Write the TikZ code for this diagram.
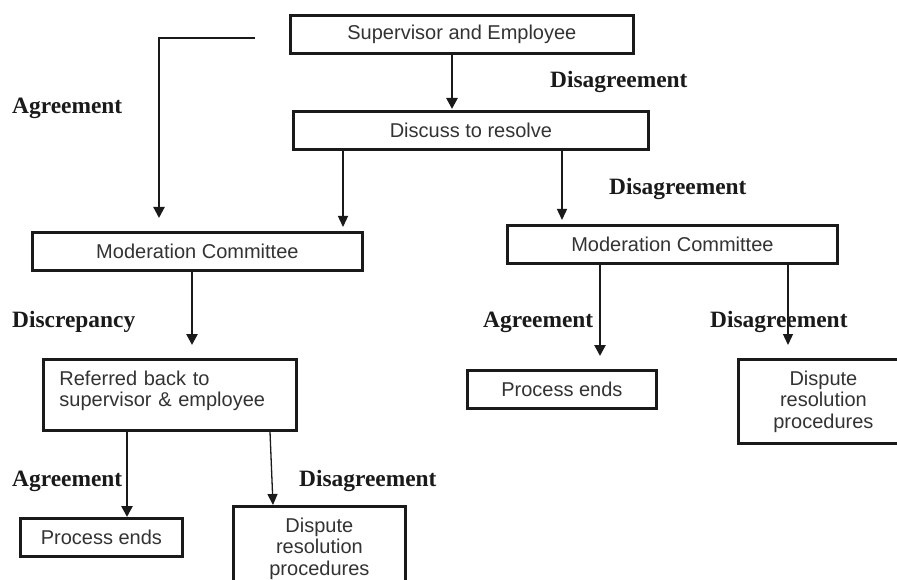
\documentclass[tikz,border=0pt]{standalone}
\usepackage{fontspec}
\setmainfont{Liberation Serif}
\setsansfont{Liberation Sans}
\usetikzlibrary{arrows.meta,calc}

\definecolor{ink}{HTML}{1A1A1A}
\definecolor{boxtext}{HTML}{333333}

\begin{document}
\begin{tikzpicture}[x=1pt,y=-1pt,
  box/.style={draw=ink, line width=2.8pt, rectangle, anchor=north west,
    inner sep=0pt, font=\sffamily\fontsize{20}{21.5}\selectfont,
    text=boxtext, align=center},
  lbl/.style={anchor=base west, inner sep=0pt,
    font=\bfseries\fontsize{23.4}{26}\selectfont, text=ink},
  heavy/.style={draw=ink, line width=2.6pt, -{Triangle[width=11pt,length=11pt]}},
  light/.style={draw=ink, line width=1.3pt, -{Triangle[width=10pt,length=11pt]}},
]
\useasboundingbox (0,0) rectangle (897,580);
\fill[white] (0,0) rectangle (897,580);
\clip (0,0) rectangle (897,580);

% boxes
\node[box, minimum width=343pt, minimum height=38pt] (se) at (289,14) {Supervisor and Employee};
\node[box, minimum width=355pt, minimum height=38pt] (dr) at (292,110) {Discuss to resolve};
\node[box, minimum width=330pt, minimum height=38pt] (mcl) at (31,231) {Moderation Committee};
\node[box, minimum width=330pt, minimum height=38pt] (mcr) at (506,224) {Moderation Committee};
\node[box, minimum width=253pt, minimum height=71pt, inner xsep=16pt,
      text width=221pt, align=left, text depth=34pt] (ref) at (42,358) {Referred back to\\supervisor \& employee};
\node[box, minimum width=162pt, minimum height=38pt] (pel) at (19,517) {Process ends};
\node[box, minimum width=172pt, minimum height=84pt] (dsl) at (232,505) {Dispute\\resolution\\procedures};
\node[box, minimum width=189pt, minimum height=38pt] (per) at (466,369) {Process ends};
\node[box, minimum width=170pt, minimum height=84pt] (dsr) at (737,358) {Dispute\\resolution\\procedures};

% labels
\node[lbl] (agr1) at (12,114) {Agreement};
\node[lbl] (dis1) at (550,88) {Disagreement};
\node[lbl] (dis2) at (609,195) {Disagreement};
\node[lbl] (disc) at (12,327) {Discrepancy};
\node[lbl] (agr2) at (483,327) {Agreement};
\node[lbl] (dis3) at (710,327) {Disagreement};
\node[lbl] (agr3) at (12,486) {Agreement};
\node[lbl] (dis4) at (299,486) {Disagreement};

% connectors
\path (se.south west) ++(163,0) coordinate (a1);
\draw[heavy, shorten >=1pt] (a1) -- (a1 |- dr.north);

\coordinate (agstart) at (255,38);
\draw[heavy, line width=2.2pt, shorten >=13pt] (agstart) -| ($(mcl.north west)+(128,0)$);

\path (dr.south west) ++(51,0) coordinate (a2);
\draw[light, shorten >=4pt] (a2) -- (a2 |- mcl.north);

\path (dr.south west) ++(270,0) coordinate (a3);
\draw[light, shorten >=4pt] (a3) -- (a3 |- mcr.north);

\path (mcl.south west) ++(161,0) coordinate (a4);
\draw[heavy, shorten >=13pt] (a4) -- (a4 |- ref.north);

\path (ref.south west) ++(85,0) coordinate (a5);
\draw[heavy] (a5) -- (a5 |- pel.north);

\draw[light] ($(ref.south west)+(228,0)$) -- ($(dsl.north west)+(41,0)$);

\path (mcr.south west) ++(94,0) coordinate (a6);
\draw[heavy, shorten >=13pt] (a6) -- (a6 |- per.north);

\path (mcr.south west) ++(282,0) coordinate (a7);
\draw[light, shorten >=13pt] (a7) -- (a7 |- dsr.north);
\end{tikzpicture}
\end{document}
